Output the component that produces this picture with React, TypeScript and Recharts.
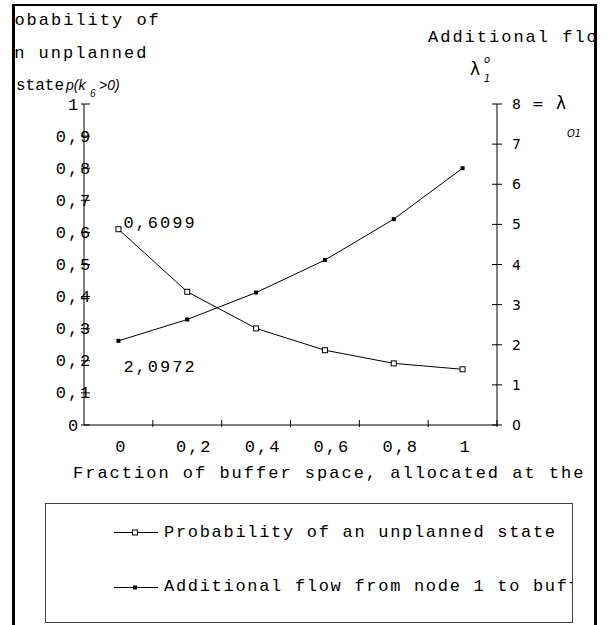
import { LineChart, Line, XAxis, YAxis, LabelList } from 'recharts'

// values
const fractionLabels = ['0', '0,2', '0,4', '0,6', '0,8', '1']
const unplannedProb = [0.6099, 0.415, 0.301, 0.233, 0.192, 0.1735]
const extraFlow = [2.0972, 2.63, 3.3, 4.11, 5.13, 6.4]
const probTicks = [0, 0.1, 0.2, 0.3, 0.4, 0.5, 0.6, 0.7, 0.8, 0.9, 1]
const flowTicks = [0, 1, 2, 3, 4, 5, 6, 7, 8]

const data = fractionLabels.map((f, i) => ({ f, prob: unplannedProb[i], flow: extraFlow[i] }))

const W = 611
const H = 625
const PLOT = { left: 84, right: 497, top: 104, bottom: 425 }
const AXIS_W = 20
const BAND = (PLOT.right - PLOT.left) / fractionLabels.length

const MONO = '"Liberation Mono", "Courier New", monospace'
const SANS = '"DejaVu Sans", sans-serif'
const monoText = { fontFamily: MONO, fontSize: 17, letterSpacing: 2, fill: '#000' }
const legendText = { ...monoText, letterSpacing: 1.7 }

const comma = (v: number) => String(v).replace('.', ',')

function ProbTick({ x, y, payload }: any) {
  return (
    <g>
      <line x1={x - 3} x2={x + 6} y1={y} y2={y} stroke="#000" />
      <text x={x - 10} y={y + 5.5} textAnchor="middle" style={monoText}>
        {comma(Math.round(payload.value * 10) / 10)}
      </text>
    </g>
  )
}

function FlowTick({ x, y, payload }: any) {
  const v = payload.value
  return (
    <g>
      <line x1={x - 5} x2={x + 5} y1={y} y2={y} stroke="#000" />
      <text x={x + 15} y={y + 5} fontFamily={SANS} fontSize={14} fill="#000">
        {v}
      </text>
      {v === 8 && (
        <>
          <text x={x + 35} y={y + 5} fontFamily={SANS} fontSize={14} fill="#000">=</text>
          <text x={x + 59} y={y + 5} fontFamily={SANS} fontSize={17} fill="#000">λ</text>
          <text x={x + 70} y={y + 33} fontFamily={SANS} fontSize={10} fontStyle="italic" fill="#000">
            O1
          </text>
        </>
      )}
    </g>
  )
}

function FractionTick({ x, y, payload }: any) {
  const shift = String(payload.value).length > 1 ? 7 : 3
  return (
    <g>
      <line x1={x + BAND / 2} x2={x + BAND / 2} y1={y - 5} y2={y + 2} stroke="#000" />
      <text x={x + shift} y={y + 27} textAnchor="middle" style={monoText}>
        {payload.value}
      </text>
    </g>
  )
}

const HollowSquare = (p: any) =>
  p.cx == null ? null : (
    <rect key={`h-${p.index}`} x={p.cx - 2.5} y={p.cy - 2.5} width={5} height={5} fill="#fff" stroke="#000" />
  )

const SolidSquare = (p: any) =>
  p.cx == null ? null : (
    <rect key={`s-${p.index}`} x={p.cx - 2} y={p.cy - 2} width={4} height={4} fill="#000" />
  )

// only the first point of each series carries its value
const firstLabel = (dy: number) => (p: any) => {
  if (p.index !== 0) return null
  const x = p.x ?? p.viewBox?.x
  const y = p.y ?? p.viewBox?.y
  return (
    <text x={x + 5} y={y + dy} style={monoText}>
      {comma(p.value)}
    </text>
  )
}

function LegendBox() {
  return (
    <div
      style={{
        position: 'absolute',
        left: 45,
        top: 503,
        width: 528,
        height: 120,
        border: '1px solid #444',
        boxSizing: 'border-box',
        overflow: 'hidden',
        background: '#fff',
      }}
    >
      <svg width={528} height={120} style={{ position: 'absolute', left: -1, top: -1 }}>
        <line x1={69} x2={113} y1={29.5} y2={29.5} stroke="#000" />
        <rect x={87.5} y={27} width={5} height={5} fill="#fff" stroke="#000" />
        <text x={119} y={34} style={legendText}>Probability of an unplanned state</text>
        <line x1={69} x2={113} y1={84.5} y2={84.5} stroke="#000" />
        <rect x={88} y={82.5} width={4} height={4} fill="#000" />
        <text x={119} y={88} style={legendText}>Additional flow from node 1 to buffer</text>
      </svg>
    </div>
  )
}

function Titles() {
  return (
    <svg width={W} height={H} style={{ position: 'absolute', left: 0, top: 0 }}>
      <text x={-10} y={25} style={monoText}>Probability of</text>
      <text x={2} y={58} style={monoText}>an unplanned</text>
      <text x={16} y={90} fontFamily={MONO} fontSize={16} fill="#000">state</text>
      <text y={90} fontFamily='"Liberation Sans", sans-serif' fontStyle="italic" fontSize={14} fill="#000">
        <tspan x={66}>p(k</tspan>
        <tspan x={90} dy={7} fontSize={10}>6</tspan>
        <tspan x={99} dy={-7}>&gt;0)</tspan>
      </text>

      <text x={428} y={42} style={monoText}>Additional flow</text>
      <text x={470} y={75} fontFamily={SANS} fontSize={17} fill="#000">λ</text>
      <text x={484} y={63} fontFamily={SANS} fontSize={10} fontStyle="italic" fill="#000">o</text>
      <text x={484} y={82} fontFamily={SANS} fontSize={10} fontStyle="italic" fill="#000">1</text>

      <text x={73} y={478} style={monoText}>Fraction of buffer space, allocated at the node</text>
    </svg>
  )
}

export default function App() {
  return (
    <div style={{ position: 'absolute', left: 0, top: 0, width: W, height: H, overflow: 'hidden', background: '#fff' }}>
      <div
        style={{
          position: 'absolute',
          left: 12,
          top: 4,
          width: 585,
          height: 640,
          borderLeft: '3px solid #000',
          borderTop: '2px solid #000',
          borderRight: '3px solid #000',
          boxSizing: 'border-box',
          overflow: 'hidden',
        }}
      >
        <div style={{ position: 'absolute', left: -15, top: -6, width: W, height: H }}>
          <LineChart
            width={W}
            height={H}
            data={data}
            margin={{
              top: PLOT.top,
              left: PLOT.left - AXIS_W,
              right: W - PLOT.right - AXIS_W,
              bottom: H - PLOT.bottom - AXIS_W,
            }}
          >
            <XAxis
              dataKey="f"
              scale="band"
              height={AXIS_W}
              interval={0}
              tickLine={false}
              tickSize={0}
              tickMargin={0}
              axisLine={{ stroke: '#000' }}
              tick={<FractionTick />}
            />
            <YAxis
              yAxisId="prob"
              width={AXIS_W}
              domain={[0, 1]}
              ticks={probTicks}
              interval={0}
              tickLine={false}
              tickSize={0}
              tickMargin={0}
              axisLine={{ stroke: '#000' }}
              tick={<ProbTick />}
            />
            <YAxis
              yAxisId="flow"
              orientation="right"
              width={AXIS_W}
              domain={[0, 8]}
              ticks={flowTicks}
              interval={0}
              tickLine={false}
              tickSize={0}
              tickMargin={0}
              axisLine={{ stroke: '#000' }}
              tick={<FlowTick />}
            />
            <Line
              yAxisId="prob"
              type="linear"
              dataKey="prob"
              stroke="#000"
              strokeWidth={1}
              dot={HollowSquare}
              activeDot={false}
              isAnimationActive={false}
            >
              <LabelList dataKey="prob" content={firstLabel(-1)} />
            </Line>
            <Line
              yAxisId="flow"
              type="linear"
              dataKey="flow"
              stroke="#000"
              strokeWidth={1}
              dot={SolidSquare}
              activeDot={false}
              isAnimationActive={false}
            >
              <LabelList dataKey="flow" content={firstLabel(31)} />
            </Line>
          </LineChart>
          <Titles />
          <LegendBox />
        </div>
      </div>
    </div>
  )
}
